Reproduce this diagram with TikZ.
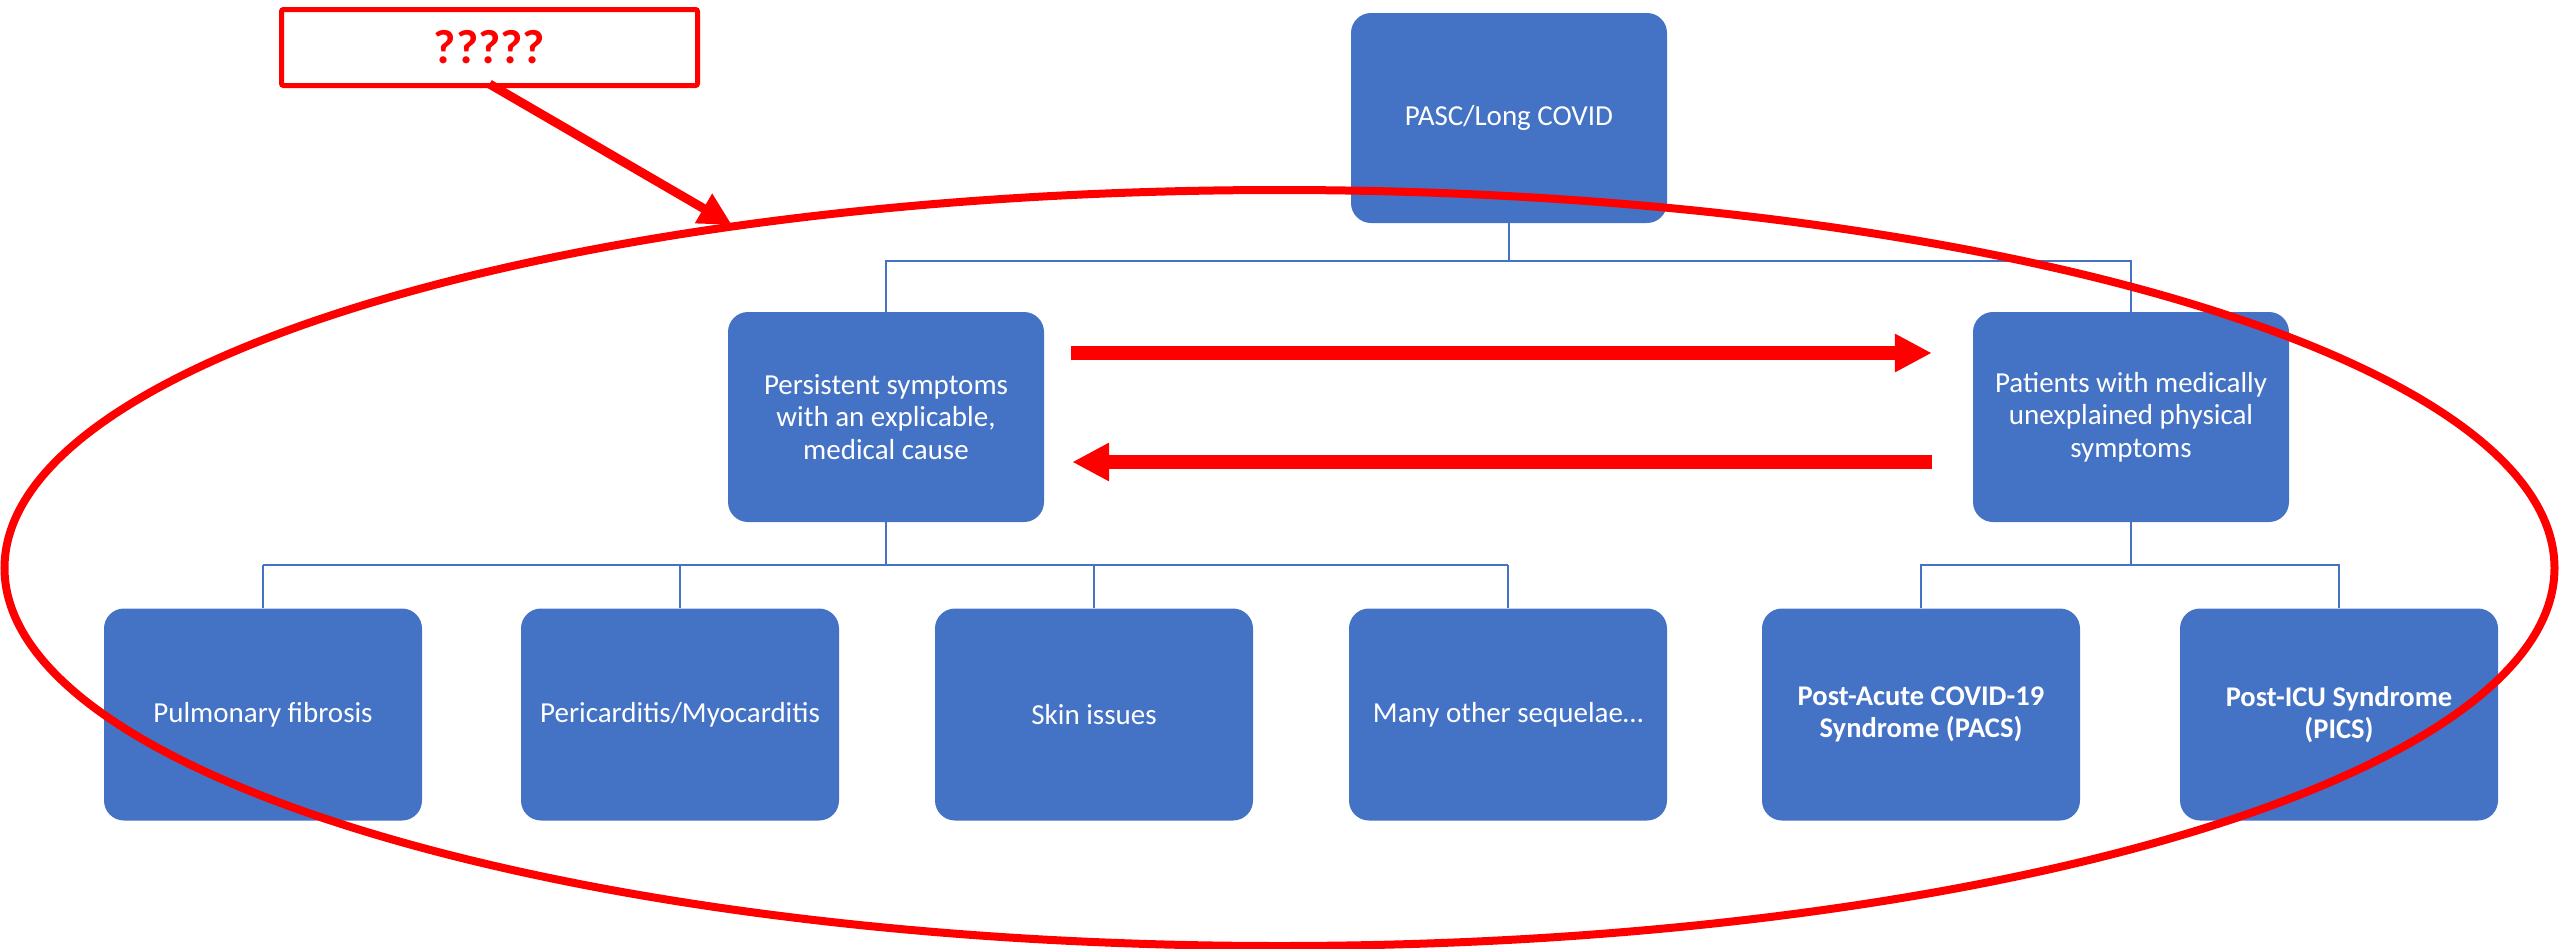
\documentclass[tikz,border=0pt]{standalone}
\usepackage{fontspec}
\setmainfont{Carlito}
\usetikzlibrary{arrows.meta,calc}
\definecolor{boxblue}{HTML}{4472C4}
\definecolor{alertred}{HTML}{FF0000}

\begin{document}
\begin{tikzpicture}[x=1pt,y=-1pt,
  box/.style={fill=boxblue, rounded corners=20pt, minimum width=316pt,
    minimum height=210pt, inner sep=0pt, align=center, text=white,
    font=\fontsize{29}{32.5}\selectfont},
  lowbox/.style={box, minimum width=318pt, minimum height=212pt},
  boldbox/.style={lowbox, font=\bfseries\fontsize{28.5}{32.5}\selectfont},
  tree/.style={draw=boxblue, line width=2.5pt},
  bigarrow/.style={draw=alertred, line width=14pt,
    -{Triangle[length=37pt,width=36pt]}},
  diagarrow/.style={draw=alertred, line width=9pt,
    -{Triangle[length=33pt,width=32pt]}},
  qbox/.style={draw=alertred, line width=5pt, fill=white, rounded corners=2pt,
    minimum width=416pt, minimum height=76pt, inner sep=0pt, text=alertred,
    font=\bfseries\fontsize{48}{56}\selectfont}
]
\useasboundingbox (0,0) rectangle (2560,948);

% hierarchy boxes
\node[box] (pasc) at (1509,118) {PASC/Long COVID};
\node[box] (pers) at (886,417) {Persistent symptoms\\with an explicable,\\medical cause};
\node[box] (pat) at (2131,417) {Patients with medically\\unexplained physical\\symptoms};

\node[lowbox] (pulm) at (263,714.5) {Pulmonary fibrosis};
\node[lowbox] (peri) at (680,714.5) {Pericarditis/Myocarditis};
\node[lowbox] (skin) at (1094,714.5) {Skin issues};
\node[lowbox] (many) at (1508,714.5) {Many other sequelae\dots};
\node[boldbox] (pacs) at (1921,714.5) {Post-Acute COVID-19\\Syndrome (PACS)};
\node[boldbox] (pics) at (2339,714.5) {Post-ICU Syndrome\\(PICS)};

% tree connectors
\coordinate (j1) at ($(pasc.south)+(0,38)$);
\draw[tree] (pasc.south) -- (j1);
\draw[tree] (pers.north) -- (pers.north |- j1) -- (pat.north |- j1) -- (pat.north);

\coordinate (j2) at ($(pers.south)+(0,43)$);
\draw[tree] (pers.south) -- (j2);
\draw[tree] (pulm.north |- j2) -- (many.north |- j2);
\foreach \n in {pulm,peri,skin,many}
  \draw[tree] (\n.north |- j2) -- (\n.north);

\coordinate (j3) at ($(pat.south)+(0,43)$);
\draw[tree] (pat.south) -- (j3);
\draw[tree] (pacs.north) -- (pacs.north |- j3) -- (pics.north |- j3) -- (pics.north);

% grouping ellipse
\draw[alertred, line width=8pt] (1279.5,568) ellipse [x radius=1275, y radius=378];

% arrows between the two middle boxes
\draw[bigarrow] ($(pers.east)+(27,-64)$) -- ($(pat.west)+(-41,-64)$);
\draw[bigarrow] ($(pat.west)+(-41,45)$) -- ($(pers.east)+(28,45)$);

% question label
\node[qbox] (q) at (489.5,47.5) {?????};
\coordinate (qtip) at (732,225);
\draw[diagarrow] ($(q.south)+(0,-4)$) -- (qtip);
\end{tikzpicture}
\end{document}
